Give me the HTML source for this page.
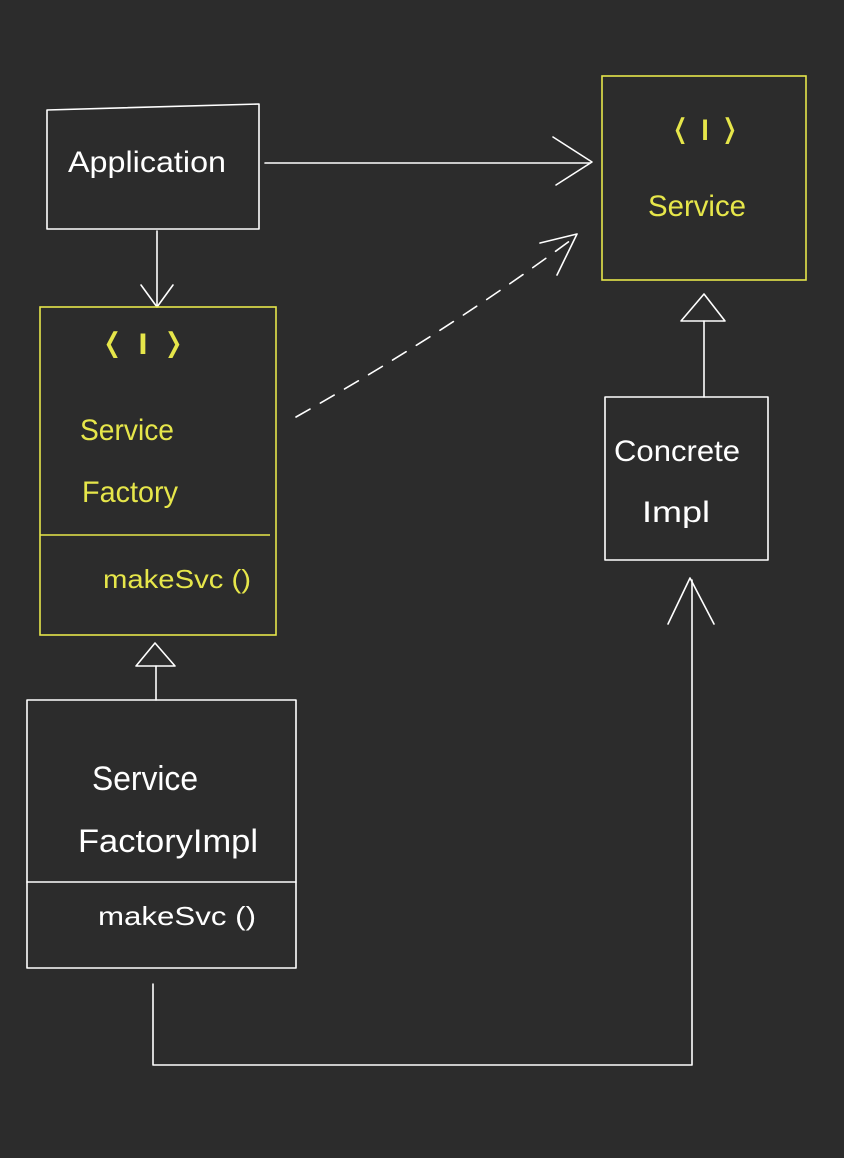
<!DOCTYPE html>
<html><head><meta charset="utf-8"><style>
html,body{margin:0;padding:0;background:#2c2c2c;}
svg{display:block}
text{font-family:"Liberation Sans",sans-serif;font-weight:normal}
</style></head><body>
<svg width="844" height="1158" viewBox="0 0 844 1158" xmlns="http://www.w3.org/2000/svg">
<rect width="844" height="1158" fill="#2c2c2c"/>
<g fill="none" stroke="#ffffff" stroke-width="1.6" stroke-linecap="round" stroke-linejoin="round">
<polygon points="47,110 259,104 259,229 47,229"/>
<rect x="605" y="397" width="163" height="163"/>
<rect x="27" y="700" width="269" height="268"/>
<line x1="27" y1="882" x2="296" y2="882"/>
<line x1="265" y1="163" x2="590" y2="163"/>
<polyline points="553,137 592,162 556,185"/>
<line x1="157" y1="231" x2="157" y2="307"/>
<polyline points="141,285 157,307 173,285"/>
<path d="M296,417 Q450,330 575,237" stroke-dasharray="16,12"/>
<polyline points="540,243 577,234 557,275"/>
<polygon points="681,321 704,294 725,321"/>
<line x1="704" y1="321" x2="704" y2="397"/>
<polygon points="136,666 155,643 175,666"/>
<line x1="156" y1="666" x2="156" y2="700"/>
<polyline points="153,984 153,1065 692,1065 692,580"/>
<polyline points="668,624 690,578 714,624"/>
</g>
<g fill="none" stroke="#e6e64a" stroke-width="1.6">
<rect x="602" y="76" width="204" height="204"/>
<rect x="40" y="307" width="236" height="328"/>
<line x1="40" y1="535" x2="270" y2="535"/>
</g>
<g fill="#ffffff" font-size="30">
<text x="68" y="172" textLength="158" lengthAdjust="spacingAndGlyphs">Application</text>
<text x="614" y="461" textLength="126" lengthAdjust="spacingAndGlyphs">Concrete</text>
<text x="642" y="522" textLength="68" lengthAdjust="spacingAndGlyphs">Impl</text>
<text x="92" y="790" font-size="34" textLength="106" lengthAdjust="spacingAndGlyphs">Service</text>
<text x="78" y="852" font-size="32" textLength="180" lengthAdjust="spacingAndGlyphs">FactoryImpl</text>
<text x="98" y="925" font-size="26" textLength="158" lengthAdjust="spacingAndGlyphs">makeSvc ()</text>
</g>
<g fill="#e6e64a" font-size="30">
<text x="672" y="140" textLength="66" lengthAdjust="spacingAndGlyphs">⟨ I ⟩</text>
<text x="648" y="216" textLength="98" lengthAdjust="spacingAndGlyphs">Service</text>
<text x="102" y="354" textLength="82" lengthAdjust="spacingAndGlyphs">⟨ I ⟩</text>
<text x="80" y="440" textLength="94" lengthAdjust="spacingAndGlyphs">Service</text>
<text x="82" y="502" textLength="96" lengthAdjust="spacingAndGlyphs">Factory</text>
<text x="103" y="588" font-size="26" textLength="148" lengthAdjust="spacingAndGlyphs">makeSvc ()</text>
</g>
</svg>
</body></html>
